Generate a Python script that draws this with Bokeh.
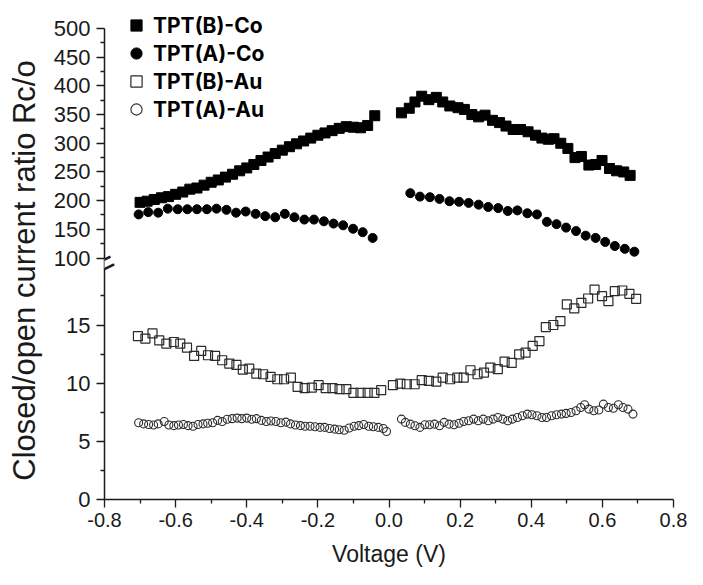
from bokeh.plotting import figure
from bokeh.models import (Range1d, FixedTicker, NumeralTickFormatter, CustomJSTickFormatter,
                          Legend, LegendItem, Label)
from bokeh.embed import file_html
from bokeh.resources import INLINE

# ---------------- data ----------------
x_ticks = [-0.8, -0.6, -0.4, -0.2, 0.0, 0.2, 0.4, 0.6, 0.8]
x_minor = [-0.7, -0.5, -0.3, -0.1, 0.1, 0.3, 0.5, 0.7]
lower_ticks = [0, 5, 10, 15]
lower_minor = [2.5, 7.5, 12.5, 17.5]
upper_ticks = [100, 150, 200, 250, 300, 350, 400, 450, 500]
upper_minor = [125, 175, 225, 275, 325, 375, 425, 475]

# TPT(B)-Co  (filled squares, upper panel)
bco_left_x = [-0.70, -0.68, -0.66, -0.64, -0.62, -0.60, -0.58, -0.56, -0.54, -0.52,
              -0.50, -0.48, -0.46, -0.44, -0.42, -0.40, -0.38, -0.36, -0.34, -0.32,
              -0.30, -0.28, -0.26, -0.24, -0.22, -0.20, -0.18, -0.16, -0.14, -0.12,
              -0.10, -0.08, -0.06, -0.04]
bco_left_y = [197, 199, 202, 205, 207, 211, 215, 220, 222, 227,
              232, 236, 241, 246, 252, 257, 263, 270, 276, 282,
              288, 294, 299, 304, 309, 314, 318, 322, 326, 329,
              328, 327, 331, 348]
bco_right_x = [0.035, 0.057, 0.073, 0.092, 0.112, 0.133, 0.151, 0.171, 0.194, 0.212,
               0.233, 0.252, 0.270, 0.291, 0.311, 0.329, 0.349, 0.370, 0.391, 0.412,
               0.430, 0.448, 0.464, 0.483, 0.503, 0.523, 0.541, 0.562, 0.581, 0.599,
               0.620, 0.640, 0.660, 0.678]
bco_right_y = [353, 361, 372, 382, 376, 380, 372, 365, 362, 359,
               350, 346, 349, 340, 336, 330, 324, 324, 320, 314,
               309, 307, 308, 300, 291, 275, 277, 262, 263, 270,
               256, 252, 250, 244]

# TPT(A)-Co  (filled circles, upper panel)
aco_left_x = [-0.704, -0.677, -0.649, -0.622, -0.594, -0.567, -0.540, -0.512, -0.485, -0.457,
              -0.430, -0.403, -0.375, -0.348, -0.320, -0.293, -0.266, -0.238, -0.211, -0.183,
              -0.156, -0.129, -0.101, -0.074, -0.046]
aco_left_y = [176, 180, 179, 186, 185, 185, 185, 185, 186, 184,
              179, 181, 177, 173, 171, 177, 171, 167, 167, 164,
              160, 157, 151, 145, 135]
aco_right_x = [0.060, 0.087, 0.115, 0.142, 0.170, 0.197, 0.224, 0.252, 0.279, 0.307,
               0.334, 0.361, 0.389, 0.416, 0.444, 0.471, 0.498, 0.526, 0.553, 0.581,
               0.608, 0.635, 0.663, 0.690]
aco_right_y = [213, 207, 206, 203, 199, 198, 196, 193, 189, 187,
               182, 183, 178, 176, 163, 159, 153, 147, 139, 135,
               128, 121, 116, 111]

# TPT(B)-Au  (open squares, lower panel)
bau_left_x = [-0.706, -0.685, -0.665, -0.646, -0.626, -0.605, -0.587, -0.568, -0.548, -0.528,
              -0.509, -0.489, -0.469, -0.449, -0.429, -0.411, -0.393, -0.373, -0.354, -0.333,
              -0.314, -0.295, -0.276, -0.257, -0.237, -0.217, -0.198, -0.178, -0.159, -0.139,
              -0.120, -0.100, -0.080, -0.060, -0.041, -0.022]
bau_left_y = [14.05, 13.83, 14.28, 13.68, 13.40, 13.54, 13.40, 13.05, 12.34, 12.77,
              12.40, 12.34, 11.97, 11.68, 11.57, 11.17, 11.25, 10.82, 10.77, 10.54,
              10.34, 10.34, 10.48, 9.68, 9.57, 9.62, 9.83, 9.57, 9.57, 9.49,
              9.49, 9.17, 9.17, 9.17, 9.17, 9.40]
bau_right_x = [0.011, 0.032, 0.050, 0.072, 0.092, 0.112, 0.133, 0.151, 0.172, 0.192,
               0.210, 0.229, 0.249, 0.267, 0.285, 0.306, 0.325, 0.345, 0.366, 0.384,
               0.404, 0.423, 0.441, 0.462, 0.482, 0.500, 0.521, 0.541, 0.560, 0.578,
               0.599, 0.617, 0.635, 0.656, 0.676, 0.695]
bau_right_y = [9.83, 9.97, 9.91, 9.91, 10.26, 10.20, 10.14, 10.48, 10.34, 10.48,
               10.48, 11.11, 10.77, 10.91, 11.34, 11.20, 11.85, 11.74, 12.48, 12.62,
               13.20, 13.62, 14.82, 15.00, 15.34, 16.77, 16.43, 16.91, 17.28, 18.05,
               17.48, 17.05, 17.91, 17.97, 17.68, 17.25]

# TPT(A)-Au  (open circles, lower panel)
aau_left_x = [-0.704, -0.690, -0.676, -0.662, -0.649, -0.632, -0.619, -0.605, -0.592, -0.578,
              -0.565, -0.551, -0.537, -0.523, -0.510, -0.496, -0.482, -0.469, -0.455, -0.441,
              -0.427, -0.414, -0.400, -0.386, -0.373, -0.359, -0.345, -0.332, -0.318, -0.304,
              -0.290, -0.277, -0.263, -0.249, -0.236, -0.222, -0.208, -0.194, -0.181, -0.167,
              -0.153, -0.140, -0.126, -0.112, -0.098, -0.085, -0.071, -0.057, -0.044, -0.030,
              -0.016, -0.007]
aau_left_y = [6.60, 6.50, 6.45, 6.40, 6.50, 6.70, 6.40, 6.35, 6.40, 6.45,
              6.35, 6.30, 6.45, 6.50, 6.55, 6.60, 6.80, 6.70, 6.90, 6.95,
              7.00, 6.95, 7.00, 6.90, 6.95, 6.80, 6.70, 6.75, 6.70, 6.60,
              6.65, 6.50, 6.40, 6.35, 6.30, 6.30, 6.25, 6.20, 6.20, 6.10,
              6.05, 6.00, 5.95, 6.15, 6.30, 6.35, 6.45, 6.30, 6.25, 6.20,
              6.10, 5.85]
aau_right_x = [0.035, 0.046, 0.060, 0.073, 0.087, 0.101, 0.114, 0.128, 0.142, 0.155,
               0.169, 0.183, 0.197, 0.210, 0.224, 0.238, 0.251, 0.265, 0.279, 0.293,
               0.306, 0.320, 0.334, 0.347, 0.361, 0.375, 0.389, 0.402, 0.416, 0.430,
               0.443, 0.457, 0.471, 0.485, 0.498, 0.512, 0.526, 0.539, 0.550, 0.562,
               0.576, 0.590, 0.603, 0.617, 0.631, 0.645, 0.658, 0.672, 0.686]
aau_right_y = [6.91, 6.63, 6.48, 6.34, 6.20, 6.43, 6.43, 6.48, 6.34, 6.63,
               6.48, 6.43, 6.55, 6.71, 6.77, 6.91, 6.77, 6.91, 6.77, 6.91,
               7.05, 6.91, 6.77, 6.91, 7.05, 7.20, 7.34, 7.28, 7.20, 7.05,
               7.05, 7.20, 7.28, 7.34, 7.40, 7.48, 7.63, 7.91, 8.14, 7.77,
               7.63, 7.70, 8.20, 7.91, 7.85, 8.14, 7.91, 7.77, 7.34]

series_labels = ["TPT(B)-Co", "TPT(A)-Co", "TPT(B)-Au", "TPT(A)-Au"]
y_title = "Closed/open current ratio Rc/o"
x_title = "Voltage (V)"

# ---------------- scales ----------------
# lower panel uses the main y range; upper panel uses an extra range that
# shares the same frame (broken axis).
low_range = Range1d(0, 42.04)
up_range = Range1d(-320.9, 531.4)
LOW_TOP = 19.8          # end of the lower axis segment
SPLIT = 20.3            # centre of the axis break (lower-range units)

def up_to_low(u):
    span_low = low_range.end - low_range.start
    span_up = up_range.end - up_range.start
    return low_range.start + (u - up_range.start) * span_low / span_up

TICK_FONT = "Liberation Sans"
INK = "#1a1a1a"

p = figure(width=687, height=569, output_backend="svg", toolbar_location=None,
           x_range=Range1d(-0.8, 0.8), y_range=low_range,
           min_border_left=104, min_border_right=14, min_border_top=10, min_border_bottom=70)
p.extra_y_ranges = {"upper": up_range}
p.outline_line_color = None
p.grid.visible = False
p.background_fill_color = "white"

def style_axis(ax):
    ax.axis_line_color = INK
    ax.axis_line_width = 1.5
    ax.major_tick_line_color = INK
    ax.minor_tick_line_color = INK
    ax.major_tick_line_width = 1.3
    ax.minor_tick_line_width = 1.3
    ax.major_tick_in = 0
    ax.major_tick_out = 8
    ax.minor_tick_in = 0
    ax.minor_tick_out = 4
    ax.major_label_text_font = TICK_FONT
    ax.major_label_text_font_size = "20px"
    ax.major_label_text_color = INK
    ax.major_label_standoff = 5
    ax.axis_label_text_font = TICK_FONT
    ax.axis_label_text_font_style = "normal"
    ax.axis_label_text_color = INK

# x axis
xa = p.xaxis[0]
xa.ticker = FixedTicker(ticks=x_ticks, minor_ticks=x_minor)
xa.formatter = NumeralTickFormatter(format="0.0")
xa.axis_label = x_title
style_axis(xa)
xa.axis_label_text_font_size = "23px"
xa.axis_label_standoff = 11

# broken y axis: one axis, ticks of both panels, labels mapped back
ya = p.yaxis[0]
ya.ticker = FixedTicker(ticks=lower_ticks + [up_to_low(u) for u in upper_ticks],
                        minor_ticks=lower_minor + [up_to_low(u) for u in upper_minor])
ya.formatter = CustomJSTickFormatter(
    args=dict(split=SPLIT, l0=low_range.start, u0=up_range.start,
              k=(up_range.end - up_range.start) / (low_range.end - low_range.start)),
    code="""
        if (tick < split) { return tick.toFixed(0); }
        return Math.round(u0 + (tick - l0) * k).toFixed(0);
    """)
ya.bounds = (low_range.start, up_to_low(upper_ticks[-1]))
# trailing em space centres the visible title on the axis span (frame top is higher)
ya.axis_label = y_title + "\u2003"
style_axis(ya)
ya.major_label_text_font_size = "22px"
ya.major_label_standoff = 6
ya.axis_label_text_font_size = "31px"
ya.axis_label_standoff = 9

# axis break: white gap + slanted double stroke
p.add_layout(Label(x=-0.8, y=(LOW_TOP + up_to_low(upper_ticks[0])) / 2, text="\u2002",
                   text_font_size="9px", text_align="center", text_baseline="middle",
                   text_color="white", background_fill_color="white"))
p.add_layout(Label(x=-0.8, y=SPLIT, text="=", angle=0.45, text_align="center",
                   text_baseline="middle", text_font=TICK_FONT, text_font_size="34px",
                   text_color=INK))

# ---------------- glyphs ----------------
r_bco = p.scatter(bco_left_x + bco_right_x, bco_left_y + bco_right_y, y_range_name="upper",
                  marker="square", size=10, fill_color="black", line_color="black")
r_aco = p.scatter(aco_left_x + aco_right_x, aco_left_y + aco_right_y, y_range_name="upper",
                  marker="circle", size=9, fill_color="black", line_color="black")
r_bau = p.scatter(bau_left_x + bau_right_x, bau_left_y + bau_right_y,
                  marker="square", size=9, fill_color="white", fill_alpha=0,
                  line_color="#2a2a2a", line_width=1.2)
r_aau = p.scatter(aau_left_x + aau_right_x, aau_left_y + aau_right_y,
                  marker="circle", size=8, fill_color="white", fill_alpha=0,
                  line_color="#2a2a2a", line_width=1.1)

legend = Legend(items=[LegendItem(label=series_labels[0], renderers=[r_bco]),
                       LegendItem(label=series_labels[1], renderers=[r_aco]),
                       LegendItem(label=series_labels[2], renderers=[r_bau]),
                       LegendItem(label=series_labels[3], renderers=[r_aau])],
                location=(17, 376))
legend.glyph_width = 30
legend.glyph_height = 28
legend.label_height = 28
legend.spacing = 0
legend.padding = 0
legend.margin = 0
legend.border_line_color = None
legend.background_fill_alpha = 0
legend.label_text_font = "Inter"
legend.label_text_font_style = "bold"
legend.label_text_font_size = "21px"
legend.label_text_color = "black"
legend.label_standoff = 2
p.add_layout(legend, "center")

open("out.html", "w").write(file_html(p, INLINE))
